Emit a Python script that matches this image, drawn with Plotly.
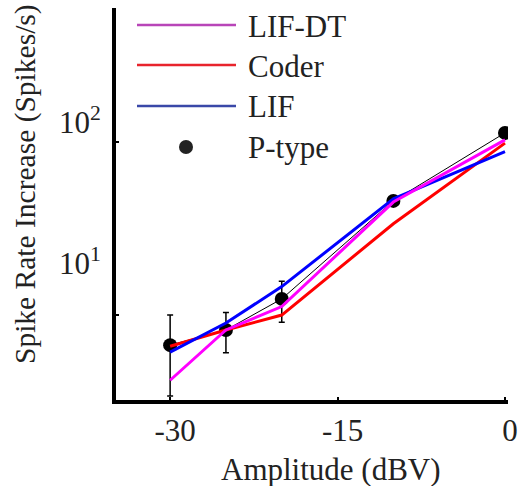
import plotly.graph_objects as go

# ---- data ----
amplitude = [-30, -25, -20, -10, 0]          # dBV
ptype = [6.7, 8.2, 12.4, 45.7, 113]          # P-type mean spike-rate increase
ptype_err = [3.3, 2.15, 3.3, 0, 0]
lif_dt = [4.2, 8.2, 11.2, 45, 103]
coder = [6.6, 8.2, 10.0, 33.7, 98.6]
lif = [6.1, 9.0, 14.6, 47, 88]

x_ticks = [-30, -15, 0]
x_ticktext = ["-30", "-15", "0"]
y_ticks = [10, 100]
y_ticktext = ["10<sup>1</sup>", "10<sup>2</sup>"]
legend_names = ["LIF-DT", "Coder", "LIF", "P-type"]

FONT = "Liberation Serif"
W, H = 518, 486
L, R, T, B = 116, 10, 8, 86
PW, PH = W - L - R, H - T - B


def px(xp):
    return (xp - L) / PW


def py(yp):
    return (H - B - yp) / PH


fig = go.Figure()
fig.add_trace(go.Scatter(
    x=amplitude, y=ptype, mode="lines+markers", name=legend_names[3],
    line=dict(color="black", width=1),
    marker=dict(color="black", size=14),
    error_y=dict(type="data", array=ptype_err, color="black", thickness=1.5, width=3),
    showlegend=False, cliponaxis=True))
fig.add_trace(go.Scatter(x=amplitude, y=coder, mode="lines", name=legend_names[1],
                         line=dict(color="#FF0000", width=3), showlegend=False))
fig.add_trace(go.Scatter(x=amplitude, y=lif, mode="lines", name=legend_names[2],
                         line=dict(color="#0000FF", width=3), showlegend=False))
fig.add_trace(go.Scatter(x=amplitude, y=lif_dt, mode="lines", name=legend_names[0],
                         line=dict(color="#FF00FF", width=3), showlegend=False))

shapes = []
annotations = []

# hand-drawn legend
leg_colors = ["#B845B8", "#E8242C", "#3A48A8"]
rows = [25, 65, 106, 147]
for i in range(3):
    shapes.append(dict(type="line", xref="paper", yref="paper",
                       x0=px(137), x1=px(236), y0=py(rows[i]), y1=py(rows[i]),
                       line=dict(color=leg_colors[i], width=2.5)))
shapes.append(dict(type="circle", xref="paper", yref="paper",
                   xsizemode="pixel", ysizemode="pixel",
                   xanchor=px(186), yanchor=py(rows[3]),
                   x0=-7, x1=7, y0=-7, y1=7,
                   fillcolor="#222222", line=dict(color="#222222", width=0)))
for i, name in enumerate(legend_names):
    annotations.append(dict(text=name, xref="paper", yref="paper",
                            x=px(246), y=py(rows[i] + 1), xanchor="left", yanchor="middle",
                            showarrow=False, font=dict(family=FONT, size=31, color="#222222")))

# y tick labels (placed where the reference shows them)
for txt, yp in zip(y_ticktext, [261, 120]):
    annotations.append(dict(text=txt, xref="paper", yref="paper",
                            x=px(103), y=py(yp), xanchor="right", yanchor="middle",
                            showarrow=False, font=dict(family=FONT, size=31, color="#222222")))

# axis titles
annotations.append(dict(text="Amplitude (dBV)", xref="paper", yref="paper",
                        x=px(331), y=py(469), xanchor="center", yanchor="middle",
                        showarrow=False, font=dict(family=FONT, size=31, color="#222222")))
annotations.append(dict(text="Spike Rate Increase (Spikes/s)", xref="paper", yref="paper",
                        x=px(25), y=py(184), xanchor="center", yanchor="middle", textangle=-90,
                        showarrow=False, font=dict(family=FONT, size=29.5, color="#222222")))

fig.update_layout(
    width=W, height=H,
    margin=dict(l=L, r=R, t=T, b=B, pad=0, autoexpand=False),
    paper_bgcolor="white", plot_bgcolor="white",
    showlegend=False,
    shapes=shapes, annotations=annotations,
    font=dict(family=FONT, size=31, color="#222222"),
)
fig.update_xaxes(range=[-34.85, 0.27], tickvals=x_ticks, ticktext=x_ticktext,
                 automargin=False,
                 showgrid=False, zeroline=False, showline=True, linecolor="black", linewidth=4,
                 ticks="inside", ticklen=3, tickwidth=2, tickcolor="black",
                 ticklabelshift=5, tickfont=dict(family=FONT, size=31, color="#222222"))
fig.update_yaxes(type="log", range=[0.509, 2.775], tickvals=y_ticks,
                 showticklabels=False, automargin=False,
                 showgrid=False, zeroline=False, showline=True, linecolor="black", linewidth=4,
                 ticks="inside", ticklen=3, tickwidth=2, tickcolor="black")

fig.write_html("out.html")
